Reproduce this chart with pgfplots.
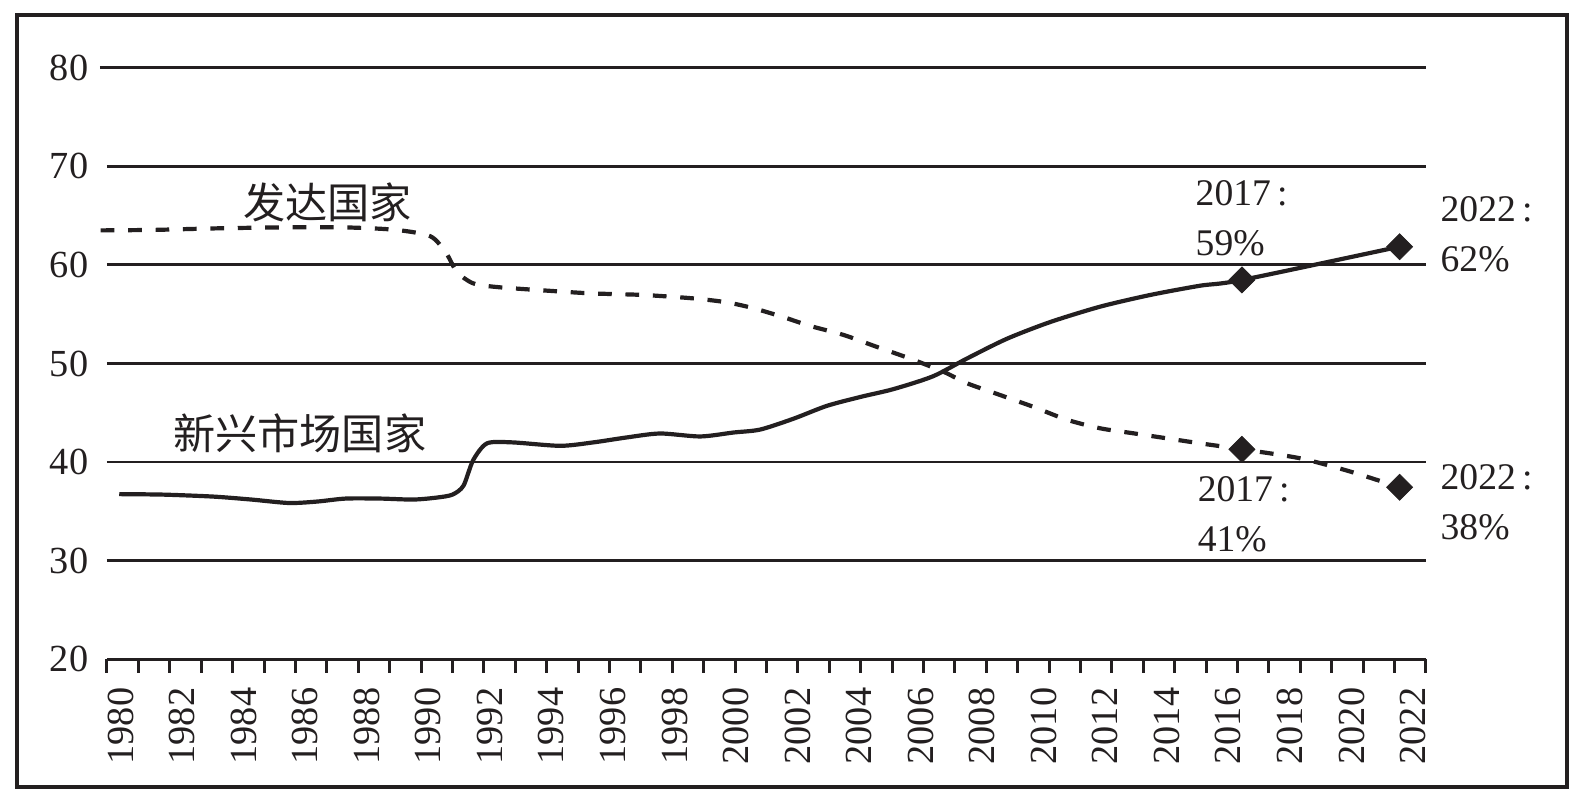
\documentclass[border=0pt]{standalone}
\usepackage{fontspec}
\setmainfont{Liberation Serif}
\newfontfamily\cjk{Noto Sans CJK SC}
\usepackage{pgfplots}
\pgfplotsset{compat=1.18}
\definecolor{ink}{HTML}{231F20}
\begin{document}
\begin{tikzpicture}[x=1mm,y=1mm]
\path[use as bounding box] (0,0) rectangle (158,79.8);
\draw[line width=0.33mm, ink] (1.7,1.1) rectangle (156.7,78.3);
\begin{axis}[
  at={(10.7mm,13.87mm)}, anchor=south west,
  scale only axis, width=131.9mm, height=59.16mm,
  xmin=1980, xmax=2022, ymin=20, ymax=80,
  clip=false,
  axis x line*=bottom, axis y line*=left,
  y axis line style={draw=none},
  x axis line style={line width=0.3mm, ink, -},
  xtick={1980,...,2022}, xticklabels={},
  xtick style={line width=0.3mm, ink},
  tick align=outside, major tick length=1.33mm,
  ytick={30,40,50,60,70,80}, yticklabels={30,40,50,60,70,80},
  ytick style={draw=none},
  ymajorgrids,
  major grid style={line width=0.28mm, ink, shorten <=-0.7mm},
  extra y ticks={20}, extra y tick labels={20},
  extra y tick style={grid=none, major tick length=0pt, ytick style={draw=none}, yticklabel style={xshift=-1.33mm}},
  extra x ticks={1980.430,1982.390,1984.350,1986.310,1988.270,1990.229,1992.189,1994.149,1996.109,1998.069,2000.029,2001.989,2003.949,2005.909,2007.868,2009.828,2011.788,2013.748,2015.708,2017.668,2019.628,2021.588},
  extra x tick labels={1980,1982,1984,1986,1988,1990,1992,1994,1996,1998,2000,2002,2004,2006,2008,2010,2012,2014,2016,2018,2020,2022},
  extra x tick style={major tick length=0pt, xtick style={draw=none}, xticklabel style={rotate=90, anchor=east, xshift=-1.6mm}},
  ticklabel style={font=\fontsize{10.9}{13}\selectfont, text=ink},
  yticklabel style={xshift=0.7mm},
]
% developed countries (dashed)
\addplot[ink, line width=0.42mm, dash pattern=on 3.9pt off 3.9pt, smooth, tension=0.45] coordinates {
(1979.8,63.5) (1981.5,63.55) (1983.4,63.7) (1985.5,63.8) (1987.6,63.8)
(1989.2,63.55) (1990.3,62.9) (1990.8,61.2) (1991.14,59.3) (1991.66,58.13)
(1992.5,57.73) (1994.43,57.3) (1995.49,57.1) (1997.08,56.95) (1998.68,56.6)
(1999.74,56.2) (2000.59,55.6) (2001.54,54.7) (2002.4,53.8) (2003.45,52.9)
(2004.5,51.7) (2005.57,50.5) (2006.63,49.17) (2007.38,48.0) (2008.44,46.8)
(2009.5,45.6) (2010.56,44.3) (2011.62,43.43) (2012.68,42.92) (2013.75,42.41)
(2014.81,41.9) (2016.14,41.3) (2018.0,40.38) (2019.6,39.03) (2021.16,37.44)
};
% emerging markets (solid)
\addplot[ink, line width=0.42mm, smooth, tension=0.45] coordinates {
(1980.39,36.75) (1981.8,36.7) (1983.39,36.5) (1984.6,36.2) (1985.8,35.85)
(1986.7,36.0) (1987.6,36.3) (1988.7,36.3) (1989.75,36.2) (1990.5,36.4)
(1991.0,36.7) (1991.35,37.6) (1991.66,40.2) (1992.1,41.9) (1992.9,42.0)
(1994.43,41.65) (1995.49,42.0) (1996.55,42.5) (1997.61,42.9) (1998.89,42.6)
(1999.95,43.0) (2000.8,43.3) (2001.86,44.4) (2002.92,45.7) (2003.98,46.6)
(2005.04,47.4) (2006.3,48.7) (2007.38,50.5) (2008.65,52.5) (2010.03,54.2)
(2011.62,55.76) (2013.22,56.95) (2014.81,57.89) (2016.14,58.47) (2021.16,61.85)
};
% highlighted points
\addplot[only marks, mark=square*, mark size=0.92mm, mark options={rotate=45, fill=ink, draw=ink, line width=0.2pt}] coordinates {
(2016.14,58.47) (2021.16,61.85) (2016.14,41.3) (2021.16,37.44)
};
% annotations
\tikzset{ann/.style={anchor=base west, inner sep=0pt, text=ink, font=\fontsize{10.7}{13}\selectfont}}
\node[ann] at (axis cs:2014.644,66.07) {2017\,:};
\node[ann] at (axis cs:2014.644,61.0) {59\%};
\node[ann] at (axis cs:2014.71,35.98) {2017\,:};
\node[ann] at (axis cs:2014.71,30.9) {41\%};
\node[ann] at (axis cs:2022.445,64.38) {2022\,:};
\node[ann] at (axis cs:2022.445,59.31) {62\%};
\node[ann] at (axis cs:2022.445,37.17) {2022\,:};
\node[ann] at (axis cs:2022.445,32.1) {38\%};
\node[text=ink, font=\cjk\fontsize{12}{14}\selectfont] at (axis cs:1987.02,66.33) {发达国家};
\node[text=ink, font=\cjk\fontsize{12}{14}\selectfont] at (axis cs:1986.136,42.92) {新兴市场国家};
\end{axis}
\end{tikzpicture}
\end{document}
